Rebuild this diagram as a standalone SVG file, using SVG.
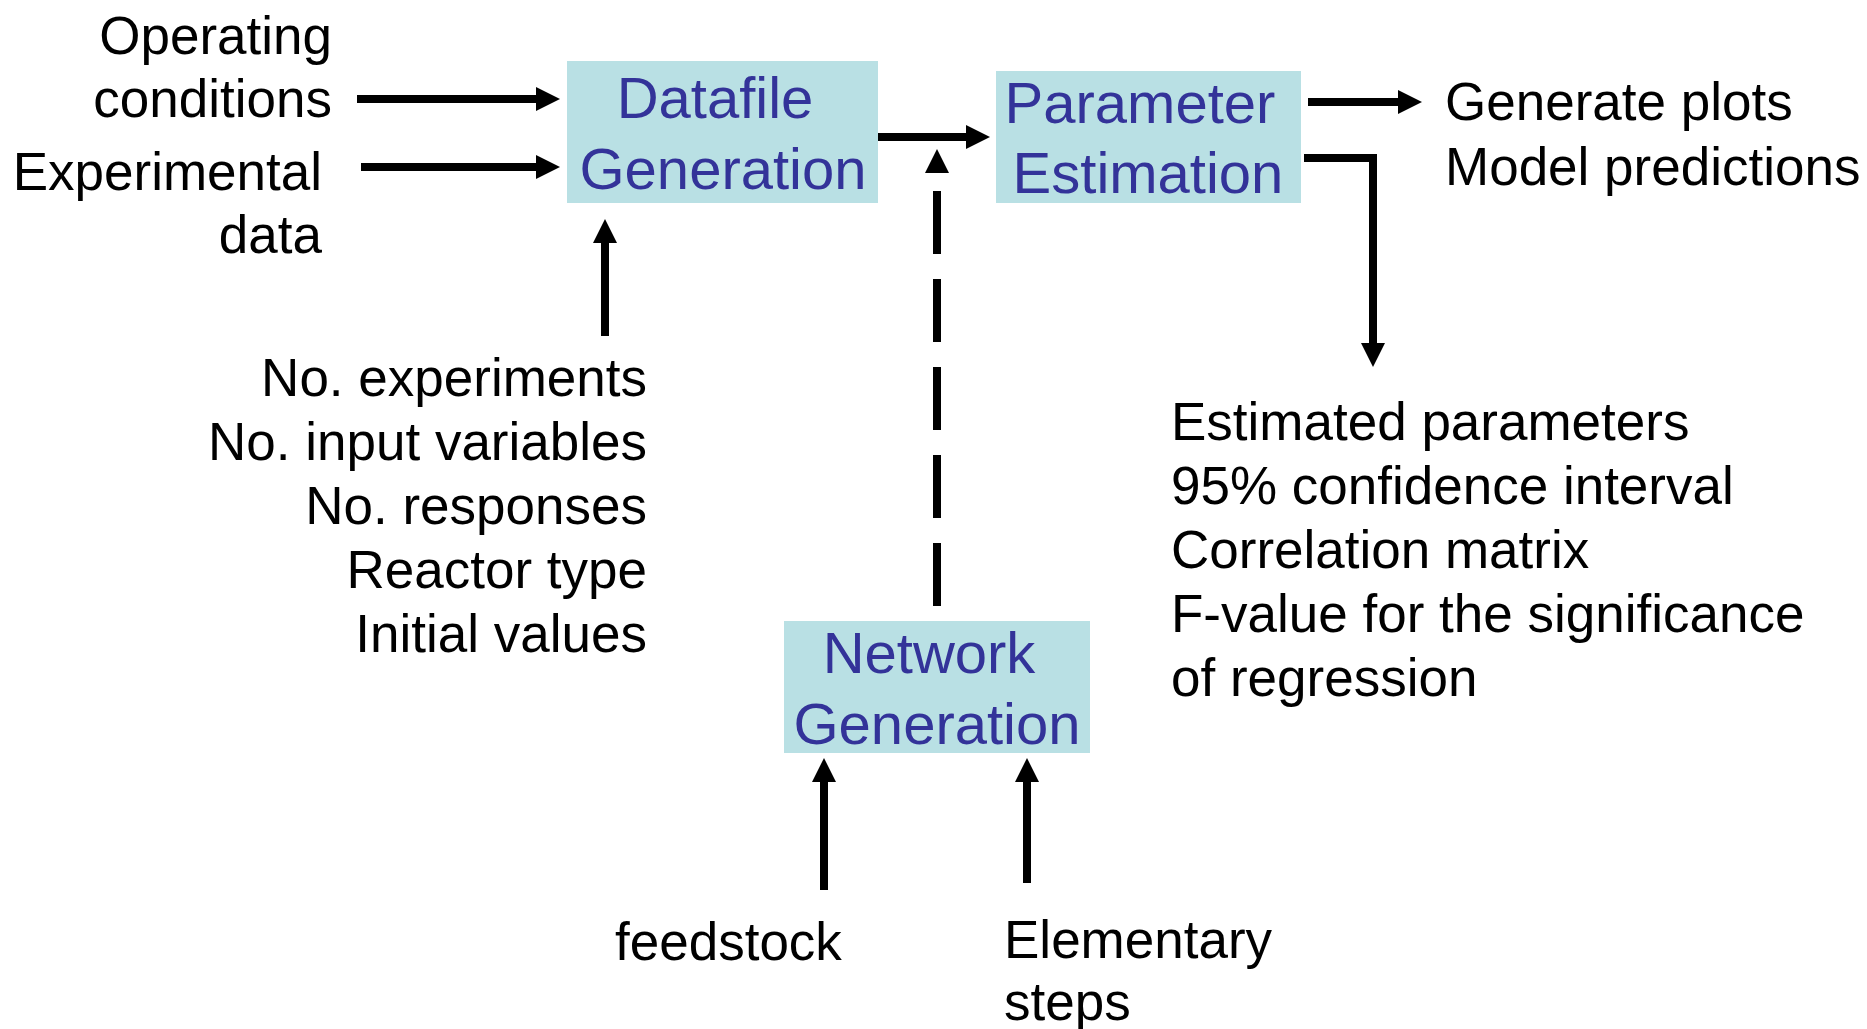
<svg xmlns="http://www.w3.org/2000/svg" width="1867" height="1029" viewBox="0 0 1867 1029">
<style>
text{font-family:"Liberation Sans",Arial,sans-serif}
.lbl{font-size:53px;fill:#000}
.box{fill:#b9e0e4}
.bt{font-size:58px;fill:#333399;text-anchor:middle}
.r{text-anchor:end}
.c{fill:none;stroke:#000;stroke-width:8}
.d{stroke-dasharray:63 25}
</style>
<defs>
<marker id="ah" viewBox="0 0 24 24" refX="1" refY="12" markerWidth="24" markerHeight="24" markerUnits="userSpaceOnUse" orient="auto">
<path d="M0,0 L24,12 L0,24 Z" fill="#000"/>
</marker>
</defs>
<rect width="1867" height="1029" fill="#fff"/>
<g id="datafile">
<rect class="box" x="567" y="61" width="311" height="142"/>
<text class="bt" x="715" y="118">Datafile</text>
<text class="bt" x="723" y="189">Generation</text>
</g>
<g id="parameter">
<rect class="box" x="996" y="71" width="305" height="132"/>
<text class="bt" x="1140" y="123">Parameter</text>
<text class="bt" x="1148" y="193">Estimation</text>
</g>
<g id="network">
<rect class="box" x="784" y="621" width="306" height="132"/>
<text class="bt" x="929" y="673">Network</text>
<text class="bt" x="937" y="744">Generation</text>
</g>
<g id="operating">
<text class="lbl r" x="332" y="54">Operating</text>
<text class="lbl r" x="332" y="117">conditions</text>
</g>
<g id="experimental">
<text class="lbl r" x="322" y="190">Experimental</text>
<text class="lbl r" x="322" y="253">data</text>
</g>
<g id="settings">
<text class="lbl r" x="647" y="396">No. experiments</text>
<text class="lbl r" x="647" y="460">No. input variables</text>
<text class="lbl r" x="647" y="524">No. responses</text>
<text class="lbl r" x="647" y="588">Reactor type</text>
<text class="lbl r" x="647" y="652">Initial values</text>
</g>
<g id="outputs">
<text class="lbl" x="1445" y="120">Generate plots</text>
<text class="lbl" x="1445" y="185">Model predictions</text>
</g>
<g id="results">
<text class="lbl" x="1171" y="440">Estimated parameters</text>
<text class="lbl" x="1171" y="504">95% confidence interval</text>
<text class="lbl" x="1171" y="568">Correlation matrix</text>
<text class="lbl" x="1171" y="632">F-value for the significance</text>
<text class="lbl" x="1171" y="696">of regression</text>
</g>
<g id="feedstock">
<text class="lbl" x="615" y="960">feedstock</text>
</g>
<g id="elementary">
<text class="lbl" x="1004" y="958">Elementary</text>
<text class="lbl" x="1004" y="1020">steps</text>
</g>
<g id="connectors">
<line class="c" x1="357" y1="99" x2="537" y2="99" marker-end="url(#ah)"/>
<line class="c" x1="361" y1="167" x2="537" y2="167" marker-end="url(#ah)"/>
<line class="c" x1="605" y1="336" x2="605" y2="242" marker-end="url(#ah)"/>
<line class="c" x1="878" y1="137" x2="967" y2="137" marker-end="url(#ah)"/>
<line class="c d" x1="937" y1="606" x2="937" y2="172" marker-end="url(#ah)"/>
<line class="c" x1="1308" y1="102" x2="1399" y2="102" marker-end="url(#ah)"/>
<polyline class="c" points="1304,158 1373,158 1373,344" marker-end="url(#ah)"/>
<line class="c" x1="824" y1="890" x2="824" y2="781" marker-end="url(#ah)"/>
<line class="c" x1="1027" y1="883" x2="1027" y2="781" marker-end="url(#ah)"/>
</g>
</svg>
